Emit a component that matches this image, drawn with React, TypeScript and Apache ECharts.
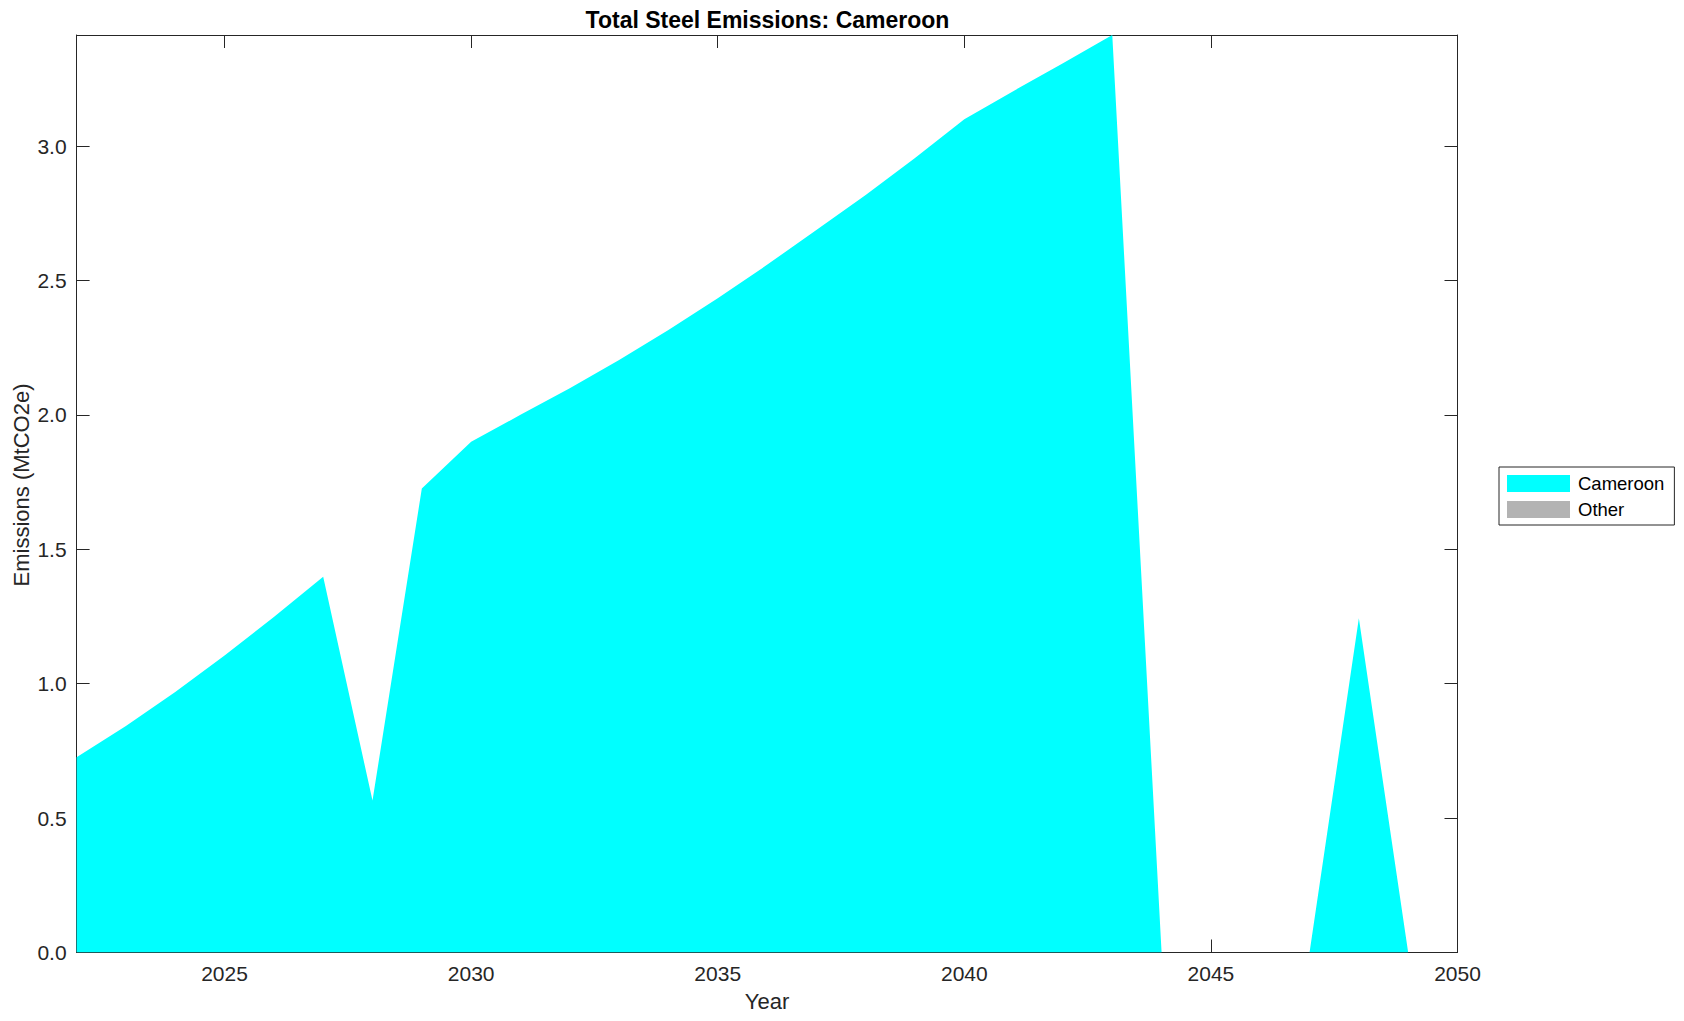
import React, { useEffect, useRef } from "react";
import * as echarts from "echarts";

const years = [
  2022, 2023, 2024, 2025, 2026, 2027, 2028, 2029, 2030, 2031, 2032, 2033, 2034, 2035, 2036,
  2037, 2038, 2039, 2040, 2041, 2042, 2043, 2044, 2045, 2046, 2047, 2048, 2049, 2050,
];
const cameroon = [
  0.726, 0.843, 0.969, 1.105, 1.248, 1.398, 0.565, 1.726, 1.9, 2.0, 2.099, 2.204, 2.316, 2.434,
  2.558, 2.688, 2.818, 2.955, 3.1, 3.205, 3.308, 3.413, 0, 0, 0, 0, 1.243, 0, 0,
];
const other = [
  0, 0, 0, 0, 0, 0, 0, 0, 0, 0, 0, 0, 0, 0, 0, 0, 0, 0, 0, 0, 0, 0, 0, 0, 0, 0, 0, 0, 0,
];
const seriesNames = ["Cameroon", "Other"];
const seriesColors = ["#00ffff", "#b3b3b3"];
const titleText = "Total Steel Emissions: Cameroon";
const xName = "Year";
const yName = "Emissions (MtCO2e)";

const FONT = "'Liberation Sans', Arial, Helvetica, sans-serif";
const AX = "#262626";

export default function App() {
  const ref = useRef<HTMLDivElement>(null);
  useEffect(() => {
    if (!ref.current) return;
    const chart = echarts.init(ref.current, null, { renderer: "svg" });
    const yMax = Math.max(...cameroon.map((v, i) => v + other[i]));
    const xMin = years[0];
    const xMax = years[years.length - 1];
    const xLabelFmt = (v: number) => (v % 5 === 0 ? String(v) : "");
    const yLabelFmt = (v: number) =>
      Math.abs(v / 0.5 - Math.round(v / 0.5)) < 1e-6 ? v.toFixed(1) : "";
    const commonLine = { show: true, onZero: false, lineStyle: { color: AX, width: 1 } };
    const commonTick = { show: true, inside: true, length: 13, lineStyle: { color: AX, width: 1 } };
    const option: any = {
      animation: false,
      backgroundColor: "#ffffff",
      textStyle: { fontFamily: FONT },
      title: {
        text: titleText,
        left: 762.5,
        textAlign: "center",
        top: 3,
        textStyle: { fontFamily: FONT, fontSize: 23, fontWeight: "bold", color: "#000000" },
      },
      graphic: [
        {
          type: "text",
          x: 21,
          y: 485,
          rotation: Math.PI / 2,
          style: {
            text: yName,
            fontFamily: FONT,
            fontSize: 22,
            fill: AX,
            textAlign: "center",
            textVerticalAlign: "middle",
          },
        },
      ],
      grid: {
        left: 76.6,
        right: 226.5,
        top: 35,
        bottom: 68.5,
        containLabel: false,
        outerBoundsMode: "none",
      },
      legend: {
        orient: "vertical",
        left: 1499,
        top: 467,
        padding: [7, 10, 6, 8],
        borderColor: AX,
        borderWidth: 1,
        backgroundColor: "#ffffff",
        itemWidth: 63,
        itemHeight: 17,
        itemGap: 7,
        icon: "rect",
        itemStyle: { borderWidth: 0 },
        textStyle: { fontFamily: FONT, fontSize: 18.5, color: "#000000", lineHeight: 17, padding: [0, 0, 0, 3] },
        data: seriesNames.map((n, i) => ({ name: n, icon: "rect", itemStyle: { color: seriesColors[i] } })),
      },
      xAxis: [
        {
          type: "value",
          min: xMin,
          max: xMax,
          minInterval: 5,
          maxInterval: 5,
          position: "bottom",
          name: xName,
          nameLocation: "middle",
          nameGap: 38,
          nameTextStyle: { fontFamily: FONT, fontSize: 22, color: AX },
          axisLine: commonLine,
          axisTick: commonTick,
          splitLine: { show: false },
          axisLabel: { formatter: xLabelFmt, fontFamily: FONT, fontSize: 21, color: AX, margin: 10 },
        },
        {
          type: "value",
          min: xMin,
          max: xMax,
          minInterval: 5,
          maxInterval: 5,
          position: "top",
          axisLine: commonLine,
          axisTick: commonTick,
          splitLine: { show: false },
          axisLabel: { show: false },
        },
      ],
      yAxis: [
        {
          type: "value",
          min: 0,
          max: yMax,
          interval: 0.5,
          position: "left",
          axisLine: commonLine,
          axisTick: commonTick,
          splitLine: { show: false },
          axisLabel: { formatter: yLabelFmt, fontFamily: FONT, fontSize: 21, color: AX, margin: 10 },
        },
        {
          type: "value",
          min: 0,
          max: yMax,
          interval: 0.5,
          position: "right",
          axisLine: commonLine,
          axisTick: commonTick,
          splitLine: { show: false },
          axisLabel: { show: false },
        },
      ],
      series: [
        {
          name: seriesNames[0],
          type: "line",
          stack: "total",
          xAxisIndex: 0,
          yAxisIndex: 0,
          data: years.map((y, i) => [y, cameroon[i]]),
          showSymbol: false,
          symbol: "none",
          color: seriesColors[0],
          lineStyle: { width: 0, opacity: 0 },
          areaStyle: { color: seriesColors[0], opacity: 1 },
          z: 1,
        },
        {
          name: seriesNames[1],
          type: "line",
          stack: "total",
          xAxisIndex: 0,
          yAxisIndex: 0,
          data: years.map((y, i) => [y, other[i]]),
          showSymbol: false,
          symbol: "none",
          color: seriesColors[1],
          lineStyle: { width: 0, opacity: 0 },
          areaStyle: { color: seriesColors[1], opacity: 1 },
          z: 1,
        },
      ],
    };
    chart.setOption(option);
    return () => chart.dispose();
  }, []);
  return (
    <div
      ref={ref}
      style={{ position: "absolute", left: 0, top: 0, width: 1684, height: 1021, background: "#fff" }}
    />
  );
}
